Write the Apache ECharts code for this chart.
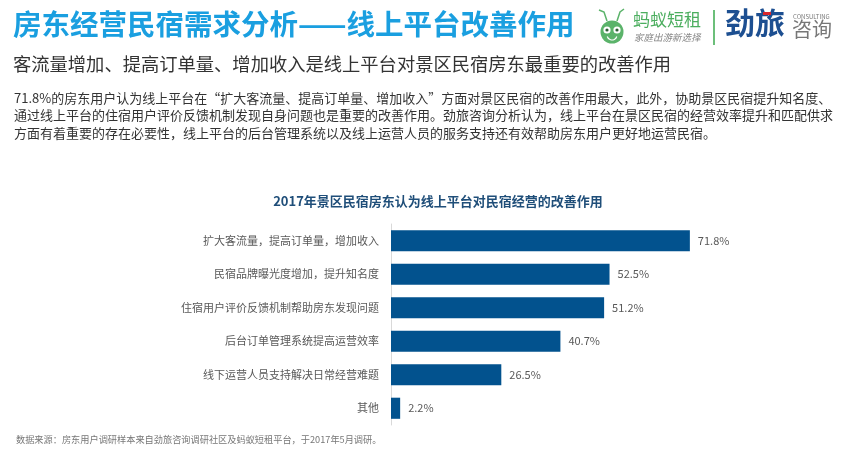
<!DOCTYPE html>
<html><head><meta charset="utf-8">
<script src="https://cdn.jsdelivr.net/npm/echarts@6/dist/echarts.min.js"></script>
<style>html,body{margin:0;padding:0;background:#fff}#c{width:856px;height:460px}</style>
</head><body><div id="c"></div>
<script>
const categories = ['扩大客流量，提高订单量，增加收入','民宿品牌曝光度增加，提升知名度','住宿用户评价反馈机制帮助房东发现问题','后台订单管理系统提高运营效率','线下运营人员支持解决日常经营难题','其他'];
const values = [71.8, 52.5, 51.2, 40.7, 26.5, 2.2];

const FONT = '"Noto Sans CJK SC", "Microsoft YaHei", sans-serif';
const chart = echarts.init(document.getElementById('c'), null, {renderer:'canvas'});
const para = [
 '71.8%的房东用户认为线上平台在“扩大客流量、提高订单量、增加收入”方面对景区民宿的改善作用最大，此外，协助景区民宿提升知名度、',
 '通过线上平台的住宿用户评价反馈机制发现自身问题也是重要的改善作用。劲旅咨询分析认为，线上平台在景区民宿的经营效率提升和匹配供求',
 '方面有着重要的存在必要性，线上平台的后台管理系统以及线上运营人员的服务支持还有效帮助房东用户更好地运营民宿。'
];
const graphics = [
 {type:'text', left:13, top:10, style:{text:'房东经营民宿需求分析——线上平台改善作用', fill:'#1a9fe0', font:'bold 28.5px '+FONT}},
 {type:'text', left:13, top:55, style:{text:'客流量增加、提高订单量、增加收入是线上平台对景区民宿房东最重要的改善作用', fill:'#333', font:'18.3px '+FONT}},
 // logo: ant
 {type:'circle', shape:{cx:612, cy:32, r:11.5}, style:{fill:'#5bb36a'}},
 {type:'circle', shape:{cx:607, cy:30, r:3.6}, style:{fill:'#fff'}},
 {type:'circle', shape:{cx:617, cy:30, r:3.6}, style:{fill:'#fff'}},
 {type:'circle', shape:{cx:607, cy:30, r:1.6}, style:{fill:'#2c5d34'}},
 {type:'circle', shape:{cx:617, cy:30, r:1.6}, style:{fill:'#2c5d34'}},
 {type:'arc', shape:{cx:612, cy:35, r:5, startAngle:0.3, endAngle:Math.PI-0.3}, style:{stroke:'#fff', lineWidth:1.2, fill:null}},
 {type:'polyline', shape:{points:[[607,21],[604,12],[599,10]]}, style:{stroke:'#5bb36a', lineWidth:1.5, fill:null}},
 {type:'polyline', shape:{points:[[617,21],[620,12],[624,9]]}, style:{stroke:'#5bb36a', lineWidth:1.5, fill:null}},
 {type:'text', left:633, top:11, style:{text:'蚂蚁短租', fill:'#4cae5f', font:'17px '+FONT}},
 {type:'text', left:634, top:33, style:{text:'家庭出游新选择', fill:'#888', font:'italic 9.5px '+FONT}},
 {type:'rect', shape:{x:713, y:10, width:2, height:35}, style:{fill:'#6cbf7a'}},
 {type:'text', left:725, top:8, style:{text:'劲旅', fill:'#1d4f91', font:'bold 30px '+FONT}},
 {type:'rect', shape:{x:763, y:12, width:8, height:3}, style:{fill:'#d9262c'}},
 {type:'text', left:793, top:14, style:{text:'CONSULTING', fill:'#777', font:'6px '+FONT}},
 {type:'text', left:792, top:19, style:{text:'咨询', fill:'#777', font:'20px '+FONT}},
 {type:'text', left:14, top:89, style:{text:para.join('\n'), fill:'#333', font:'13px '+FONT, lineHeight:17.5}},
 {type:'text', left:16, top:435, style:{text:'数据来源：房东用户调研样本来自劲旅咨询调研社区及蚂蚁短租平台，于2017年5月调研。', fill:'#777', font:'9.2px '+FONT}}
];
chart.setOption({
  animation:false,
  title:{text:'2017年景区民宿房东认为线上平台对民宿经营的改善作用', left:433, textAlign:'center', top:190,
    textStyle:{color:'#1f4e79', fontSize:13, fontWeight:'bold', fontFamily:FONT}},
  graphic:graphics,
  grid:{left:391, right:132, top:224, bottom:35, containLabel:false},
  xAxis:{type:'value', min:0, max:80, show:false},
  yAxis:{type:'category', data:categories, inverse:true,
    axisLine:{show:true, lineStyle:{color:'#d9d9d9', width:1}}, axisTick:{show:false},
    axisLabel:{color:'#595959', fontSize:11, fontFamily:FONT, margin:12}},
  series:[{type:'bar', data:values, barCategoryGap:'37%', itemStyle:{color:'#02528e'},
    label:{show:true, position:'right', formatter:p=>p.value.toFixed(1)+'%', color:'#595959', fontSize:11, fontFamily:FONT, distance:8}}]
});
</script></body></html>
